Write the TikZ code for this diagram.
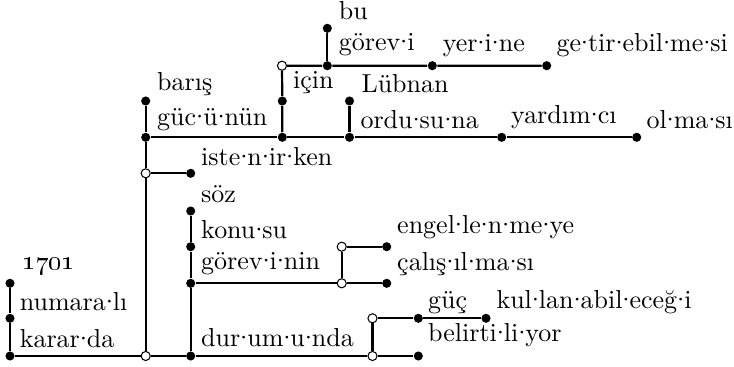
\documentclass[tikz,border=0pt]{standalone}
\newcommand\pc{\makebox[2.7pt][c]{·}}
\begin{document}
\begin{tikzpicture}[x=0.3846pt,y=-0.3846pt,
  dot/.style={circle,fill=black,inner sep=0pt,minimum size=3.5pt},
  odot/.style={circle,draw=black,fill=white,line width=0.4pt,inner sep=0pt,minimum size=3.5pt},
  lbl/.style={anchor=base west,inner sep=0pt,font=\fontsize{10}{12}\selectfont},
  link/.style={line width=0.85pt}]
\useasboundingbox (0,0) rectangle (734,367);
% dots
\node[dot] (k1701) at (10,283.3) {};
\node[dot] (knum) at (10,318.3) {};
\node[dot] (kkarar) at (10,356) {};
\node[odot] (o1) at (145.7,356) {};
\node[dot] (kdur) at (190.7,356) {};
\node[odot] (o2) at (372.5,356) {};
\node[dot] (kbel) at (418.3,356) {};
\node[odot] (o7) at (372.5,318.3) {};
\node[dot] (kguc) at (418.3,318.3) {};
\node[dot] (kkul) at (486,318.3) {};
\node[dot] (kgorevinin) at (190.7,283.3) {};
\node[dot] (kkonu) at (190.7,246.7) {};
\node[dot] (ksoz) at (190.7,211) {};
\node[odot] (o5) at (341.7,283.3) {};
\node[dot] (kcalis) at (386.7,283.3) {};
\node[odot] (o6) at (341.7,246.7) {};
\node[dot] (kengel) at (386.7,246.7) {};
\node[odot] (o3) at (145.7,173.3) {};
\node[dot] (kiste) at (190.7,173.3) {};
\node[dot] (kgucunun) at (145.7,137.3) {};
\node[dot] (kbaris) at (145.7,101) {};
\node[dot] (kjoin) at (282.3,137.3) {};
\node[dot] (kicin) at (282.3,101) {};
\node[odot] (o4) at (282,65.7) {};
\node[dot] (kgorev) at (327.3,65.7) {};
\node[dot] (kbu) at (327.3,28.3) {};
\node[dot] (kyer) at (432.3,65.7) {};
\node[dot] (kgetir) at (546.7,65.7) {};
\node[dot] (kordu) at (349.5,137.3) {};
\node[dot] (klubnan) at (349.5,101) {};
\node[dot] (kyard) at (501.7,137.3) {};
\node[dot] (kol) at (636.7,137.3) {};
% links
\draw[link] (k1701) -- (knum) -- (kkarar) -- (o1) -- (kdur) -- (o2) -- (kbel);
\draw[link] (o2) -- (o7) -- (kguc) -- (kkul);
\draw[link] (kdur) -- (kgorevinin) -- (kkonu) -- (ksoz);
\draw[link] (kgorevinin) -- (o5) -- (kcalis);
\draw[link] (o5) -- (o6) -- (kengel);
\draw[link] (o1) -- (o3) -- (kgucunun) -- (kbaris);
\draw[link] (o3) -- (kiste);
\draw[link] (kgucunun) -- (kjoin) -- (kordu) -- (kyard) -- (kol);
\draw[link] (kjoin) -- (kicin) -- (o4) -- (kgorev) -- (kyer) -- (kgetir);
\draw[link] (kgorev) -- (kbu);
\draw[link] (kordu) -- (klubnan);
% labels
\node[lbl] (t1701) at (21.5,269) {\oldstylenums{1701}};
\node[lbl] (tnum) at (19.3,310.7) {numara\pc lı};
\node[lbl] (tkarar) at (19.3,347.3) {karar\pc da};
\node[lbl] (tsoz) at (200.7,202.7) {söz};
\node[lbl] (tkonu) at (200.7,238.3) {konu\pc su};
\node[lbl] (tgorevinin) at (200.7,269.3) {görev\pc i\pc nin};
\node[lbl] (tdur) at (200.7,346.7) {dur\pc um\pc u\pc nda};
\node[lbl] (tengel) at (396.7,233.3) {engel\pc le\pc n\pc me\pc ye};
\node[lbl] (tcalis) at (396.7,270) {çalış\pc ıl\pc ma\pc sı};
\node[lbl] (tguc) at (427.7,308.3) {güç};
\node[lbl] (tkul) at (496,308.3) {kul\pc lan\pc abil\pc eceğ\pc i};
\node[lbl] (tbel) at (427.7,341.7) {belirti\pc li\pc yor};
\node[lbl] (tbu) at (338.3,20) {bu};
\node[lbl] (tgorev) at (338.3,50.7) {görev\pc i};
\node[lbl] (tyer) at (442.3,51.2) {yer\pc i\pc ne};
\node[lbl] (tgetir) at (556,51.2) {ge\pc tir\pc ebil\pc me\pc si};
\node[lbl] (tbaris) at (156.7,90) {barış};
\node[lbl] (tgucunun) at (156.7,125) {güc\pc ü\pc nün};
\node[lbl] (ticin) at (292.5,88.3) {için};
\node[lbl] (tlubnan) at (361,92.7) {Lübnan};
\node[lbl] (tordu) at (360,128.3) {ordu\pc su\pc na};
\node[lbl] (tiste) at (200.7,165) {iste\pc n\pc ir\pc ken};
\node[lbl] (tyard) at (510.7,123.3) {yardım\pc cı};
\node[lbl] (tol) at (646,128.3) {ol\pc ma\pc sı};
\end{tikzpicture}
\end{document}
